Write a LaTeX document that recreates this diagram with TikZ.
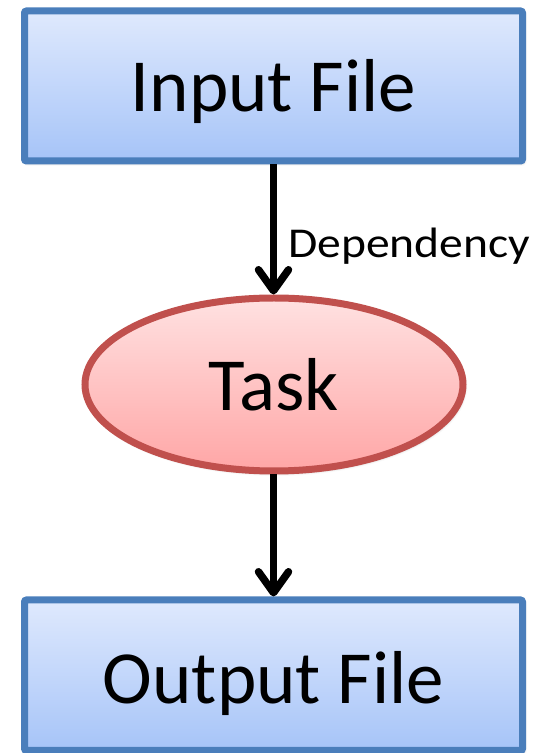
\documentclass[tikz,border=0pt]{standalone}
\usepackage{fontspec}
\setmainfont{Carlito}
\newfontfamily\widefont[FakeStretch=1.12]{Carlito}
\usetikzlibrary{arrows.meta,shapes.geometric,shadows.blur}
\definecolor{boxline}{HTML}{4A7EBB}
\definecolor{boxtop}{HTML}{DFE9FD}
\definecolor{boxbot}{HTML}{A6C4F8}
\definecolor{elline}{HTML}{C0504D}
\definecolor{eltop}{HTML}{FFE1E1}
\definecolor{elbot}{HTML}{FFA6A6}
\tikzset{
  softshadow/.style={blur shadow={shadow xshift=1.5pt, shadow yshift=-2pt, shadow blur radius=3pt, shadow opacity=30}},
  filebox/.style={rectangle, draw=boxline, line width=7pt, top color=boxtop, bottom color=boxbot,
    minimum width=498pt, minimum height=150pt, inner sep=0pt, rounded corners=2pt,
    font=\fontsize{75}{80}\selectfont, text depth=0pt, softshadow},
  taskshape/.style={ellipse, draw=elline, line width=7pt, top color=eltop, bottom color=elbot,
    minimum width=378pt, minimum height=173pt, inner sep=0pt,
    font=\fontsize{75}{80}\selectfont, text depth=0pt, softshadow},
  deparrow/.style={line width=7.5pt, -{Straight Barb[length=21pt, width=30pt, round]}},
  deplabel/.style={font=\widefont\fontsize{42.5}{46}\selectfont, inner sep=0pt}
}
\begin{document}
\begin{tikzpicture}[x=1pt,y=1pt]
\useasboundingbox (0,0) rectangle (535,753);
\node[filebox, text height=51pt] (in) at (273.5,667) {Input File};
\node[taskshape, text height=52pt] (task) at (274,368.5) {Task};
\node[filebox, minimum height=150.5pt, text height=56pt] (out) at (273.5,77.75) {Output File};
\draw[deparrow] (in.south) -- (in.south |- task.north);
\draw[deparrow] (task.south -| out.north) -- (out.north);
\node[deplabel, anchor=base west] (dep) at (288,495) {Dependency};
\end{tikzpicture}
\end{document}
